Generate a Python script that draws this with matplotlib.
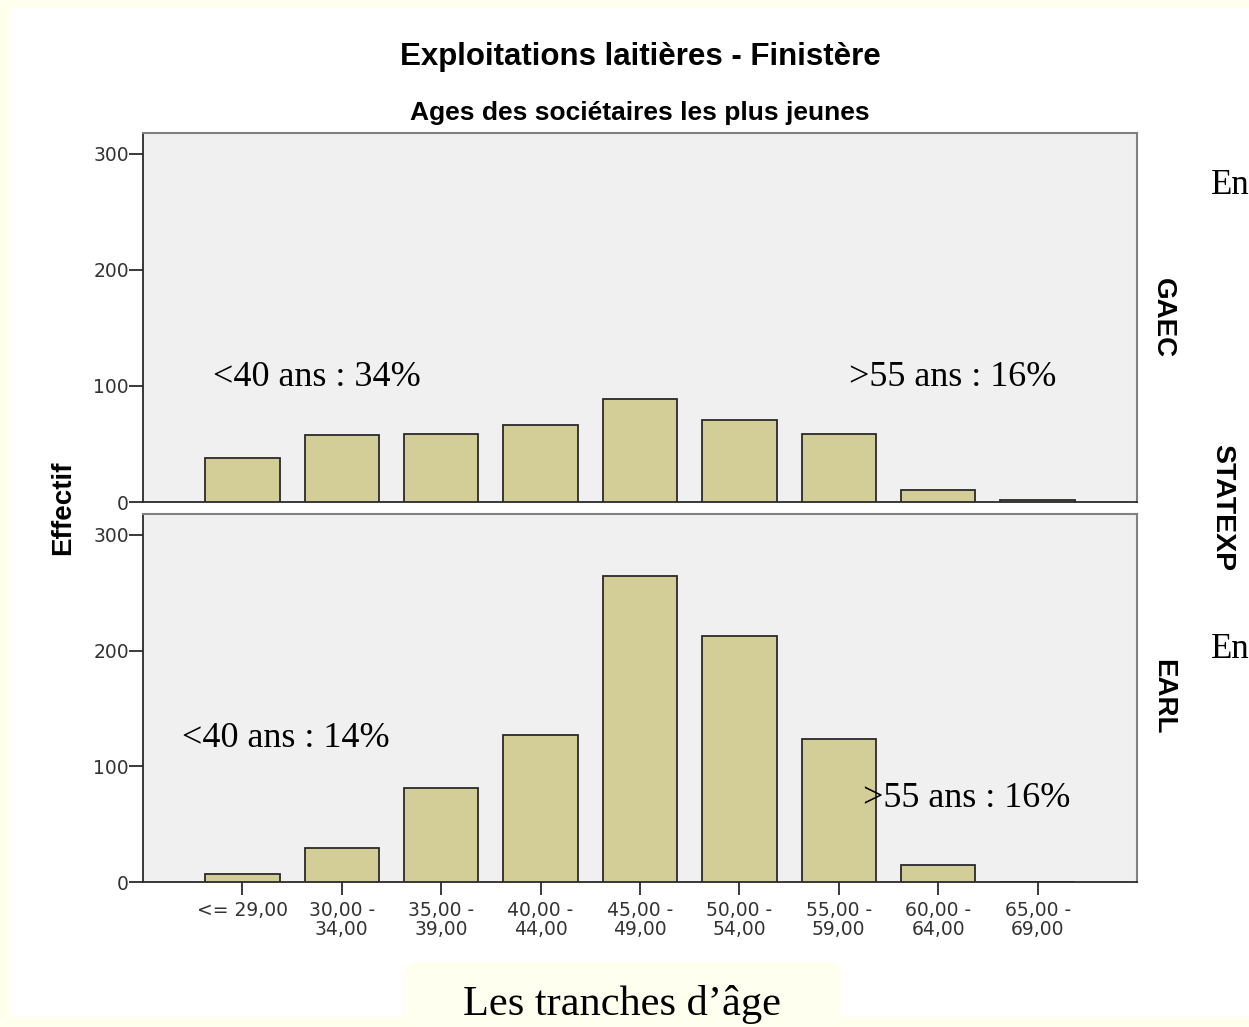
import numpy as np
import matplotlib.pyplot as plt
from matplotlib.patches import Rectangle, FancyBboxPatch

# Age bands (x categories)
age_bands = ["<= 29,00", "30,00 -\n34,00", "35,00 -\n39,00", "40,00 -\n44,00",
             "45,00 -\n49,00", "50,00 -\n54,00", "55,00 -\n59,00",
             "60,00 -\n64,00", "65,00 -\n69,00"]

# Counts per panel
gaec_counts = [38, 58, 59, 66, 89, 71, 59, 10, 2]
earl_counts = [7, 29, 81, 127, 264, 213, 124, 15, 0]

panels = ["GAEC", "EARL"]
notes_young = ["<40 ans : 34%", "<40 ans : 14%"]
notes_old = [">55 ans : 16%", ">55 ans : 16%"]

W, H = 1249, 1027
plt.rcParams["font.family"] = ["Liberation Sans", "DejaVu Sans"]
fig = plt.figure(figsize=(W / 100, H / 100), dpi=100)
fig.patch.set_facecolor("#ffffee")

# white slide area behind the chart
fig.patches.append(Rectangle((10 / W, 1 - 1017 / H), (W - 10) / W, (1017 - 8) / H,
                             transform=fig.transFigure, facecolor="white",
                             edgecolor="none", zorder=-2))
# little caption box at the bottom
fig.patches.append(FancyBboxPatch((403 / W, 0.0), 439 / W, 65 / H,
                                  boxstyle="round,pad=0,rounding_size=0.012",
                                  transform=fig.transFigure, facecolor="#ffffef",
                                  edgecolor="none", zorder=-1))

bar_color = "#d3ce97"
edge = "#2a2a2a"
tick_font = "DejaVu Sans"
x = np.arange(len(age_bands))

ax_top = fig.add_axes([143 / W, 1 - 502 / H, 994 / W, 369 / H])
ax_bot = fig.add_axes([143 / W, 1 - 882 / H, 994 / W, 368 / H])

note_pos = [((-0.3, 107), (6.1, 107)), ((-0.61, 124), (6.24, 72))]

for i, (ax, counts) in enumerate(zip([ax_top, ax_bot], [gaec_counts, earl_counts])):
    ax.set_facecolor("#f0f0f0")
    ax.bar(x, counts, width=0.75, color=bar_color, edgecolor=edge, linewidth=1.3, zorder=3)
    ax.set_xlim(-1, 9)
    ax.set_ylim(0, 318)
    ax.set_yticks([0, 100, 200, 300])
    ax.set_yticklabels(["0", "100", "200", "300"], family=tick_font)
    ax.tick_params(axis="y", direction="out", length=10, width=1.3, color=edge,
                   labelsize=13.5, labelcolor="#333333", pad=0)
    for s in ["top", "right"]:
        ax.spines[s].set_color("#808080")
        ax.spines[s].set_linewidth(1.5)
    for s in ["left", "bottom"]:
        ax.spines[s].set_color(edge)
        ax.spines[s].set_linewidth(1.3)
    (x1, y1), (x2, y2) = note_pos[i]
    ax.text(x1, y1, notes_young[i], family="Liberation Serif", fontsize=26,
            va="center", ha="left", zorder=4)
    ax.text(x2, y2, notes_old[i], family="Liberation Serif", fontsize=26,
            va="center", ha="left", zorder=4)

ax_top.set_xticks([])
ax_bot.set_xticks(x)
ax_bot.set_xticklabels(age_bands, fontsize=13.5, family=tick_font, color="#333333",
                       linespacing=1.0)
ax_bot.tick_params(axis="x", direction="out", length=9.5, width=1.3, color=edge, pad=4)

fig.text(640 / W, 1 - 57 / H, "Exploitations laitières - Finistère",
         fontsize=22.5, fontweight="bold", ha="center", va="center")
fig.text(640 / W, 1 - 113 / H, "Ages des sociétaires les plus jeunes",
         fontsize=19, fontweight="bold", ha="center", va="center")
fig.text(63 / W, 1 - 508 / H, "Effectif", fontsize=20, fontweight="bold",
         rotation=90, ha="center", va="center")
fig.text(1163 / W, 1 - 318 / H, "GAEC", fontsize=20, fontweight="bold",
         rotation=-90, ha="center", va="center")
fig.text(1163 / W, 1 - 697 / H, "EARL", fontsize=20, fontweight="bold",
         rotation=-90, ha="center", va="center")
fig.text(1222 / W, 1 - 508 / H, "STATEXP", fontsize=20.5, fontweight="bold",
         rotation=-90, ha="center", va="center")

fig.text(1211 / W, 1 - 185 / H, "En", family="Liberation Serif", fontsize=25,
         ha="left", va="center")
fig.text(1211 / W, 1 - 650 / H, "En", family="Liberation Serif", fontsize=25,
         ha="left", va="center")
fig.text(622 / W, 1 - 1005 / H, "Les tranches d\u2019âge", family="Liberation Serif",
         fontsize=30.5, ha="center", va="center")

fig.savefig("out.png", dpi=100, facecolor=fig.get_facecolor())
